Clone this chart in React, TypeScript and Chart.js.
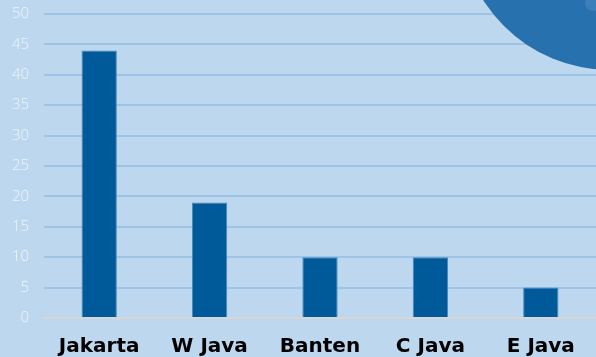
import React, { useEffect, useRef } from "react";
import { Chart, registerables } from "chart.js";

Chart.register(...registerables);

const categories = ["Jakarta", "W Java", "Banten", "C Java", "E Java"];
const values = [44, 19, 10, 10, 5];
const yMin = 0;
const yMax = 50;
const yStep = 5;

const BG = "#bdd7ee";

const decorPlugin = {
  id: "decor",
  beforeDraw(chart: any) {
    const ctx = chart.ctx;
    ctx.save();
    ctx.fillStyle = BG;
    ctx.fillRect(0, 0, chart.width, chart.height);
    ctx.restore();
  },
  beforeDatasetsDraw(chart: any) {
    const ctx = chart.ctx;
    ctx.save();
    ctx.fillStyle = "#2771ae";
    ctx.beginPath();
    ctx.arc(610, -80, 150, 0, Math.PI * 2);
    ctx.fill();
    ctx.fillStyle = "#3a7fba";
    ctx.beginPath();
    ctx.arc(593, 3, 8, 0, Math.PI * 2);
    ctx.fill();
    ctx.restore();
  },
};

export default function App() {
  const ref = useRef<HTMLCanvasElement>(null);
  useEffect(() => {
    document.body.style.margin = "0";
    const chart = new Chart(ref.current!, {
      type: "bar",
      data: {
        labels: categories,
        datasets: [
          {
            data: values,
            backgroundColor: "#005999",
            borderColor: "#4a88c2",
            borderWidth: 1,
            categoryPercentage: 0.8,
            barPercentage: 0.4,
          },
        ],
      },
      options: {
        responsive: false,
        animation: false,
        layout: { padding: { top: 0, right: 0, left: 8, bottom: 0 } },
        plugins: { legend: { display: false }, tooltip: { enabled: false } },
        scales: {
          x: {
            grid: { display: false },
            border: { display: false },
            ticks: {
              color: "#000000",
              font: { family: "DejaVu Sans", weight: "bold", size: 20 },
              padding: 9,
            },
            afterFit(scale: any) {
              scale.height = 39;
            },
          },
          y: {
            min: yMin,
            max: yMax,
            ticks: {
              stepSize: yStep,
              color: "rgba(255,255,255,0.75)",
              font: { family: "Open Sans", weight: "300", size: 15 },
              padding: 15,
            },
            grid: {
              drawTicks: false,
              lineWidth: 2,
              color: (c: any) => (c.tick && c.tick.value === 0 ? "#d6d6d6" : "#9dc3e6"),
            },
            border: { display: false },
            afterFit(scale: any) {
              scale.width = 36;
              scale.paddingTop = 14;
              scale.paddingBottom = 0;
            },
          },
        },
      },
      plugins: [decorPlugin],
    });
    return () => chart.destroy();
  }, []);
  return (
    <div style={{ position: "fixed", left: 0, top: 0, width: 596, height: 357 }}>
      <canvas ref={ref} width={596} height={357} />
    </div>
  );
}
